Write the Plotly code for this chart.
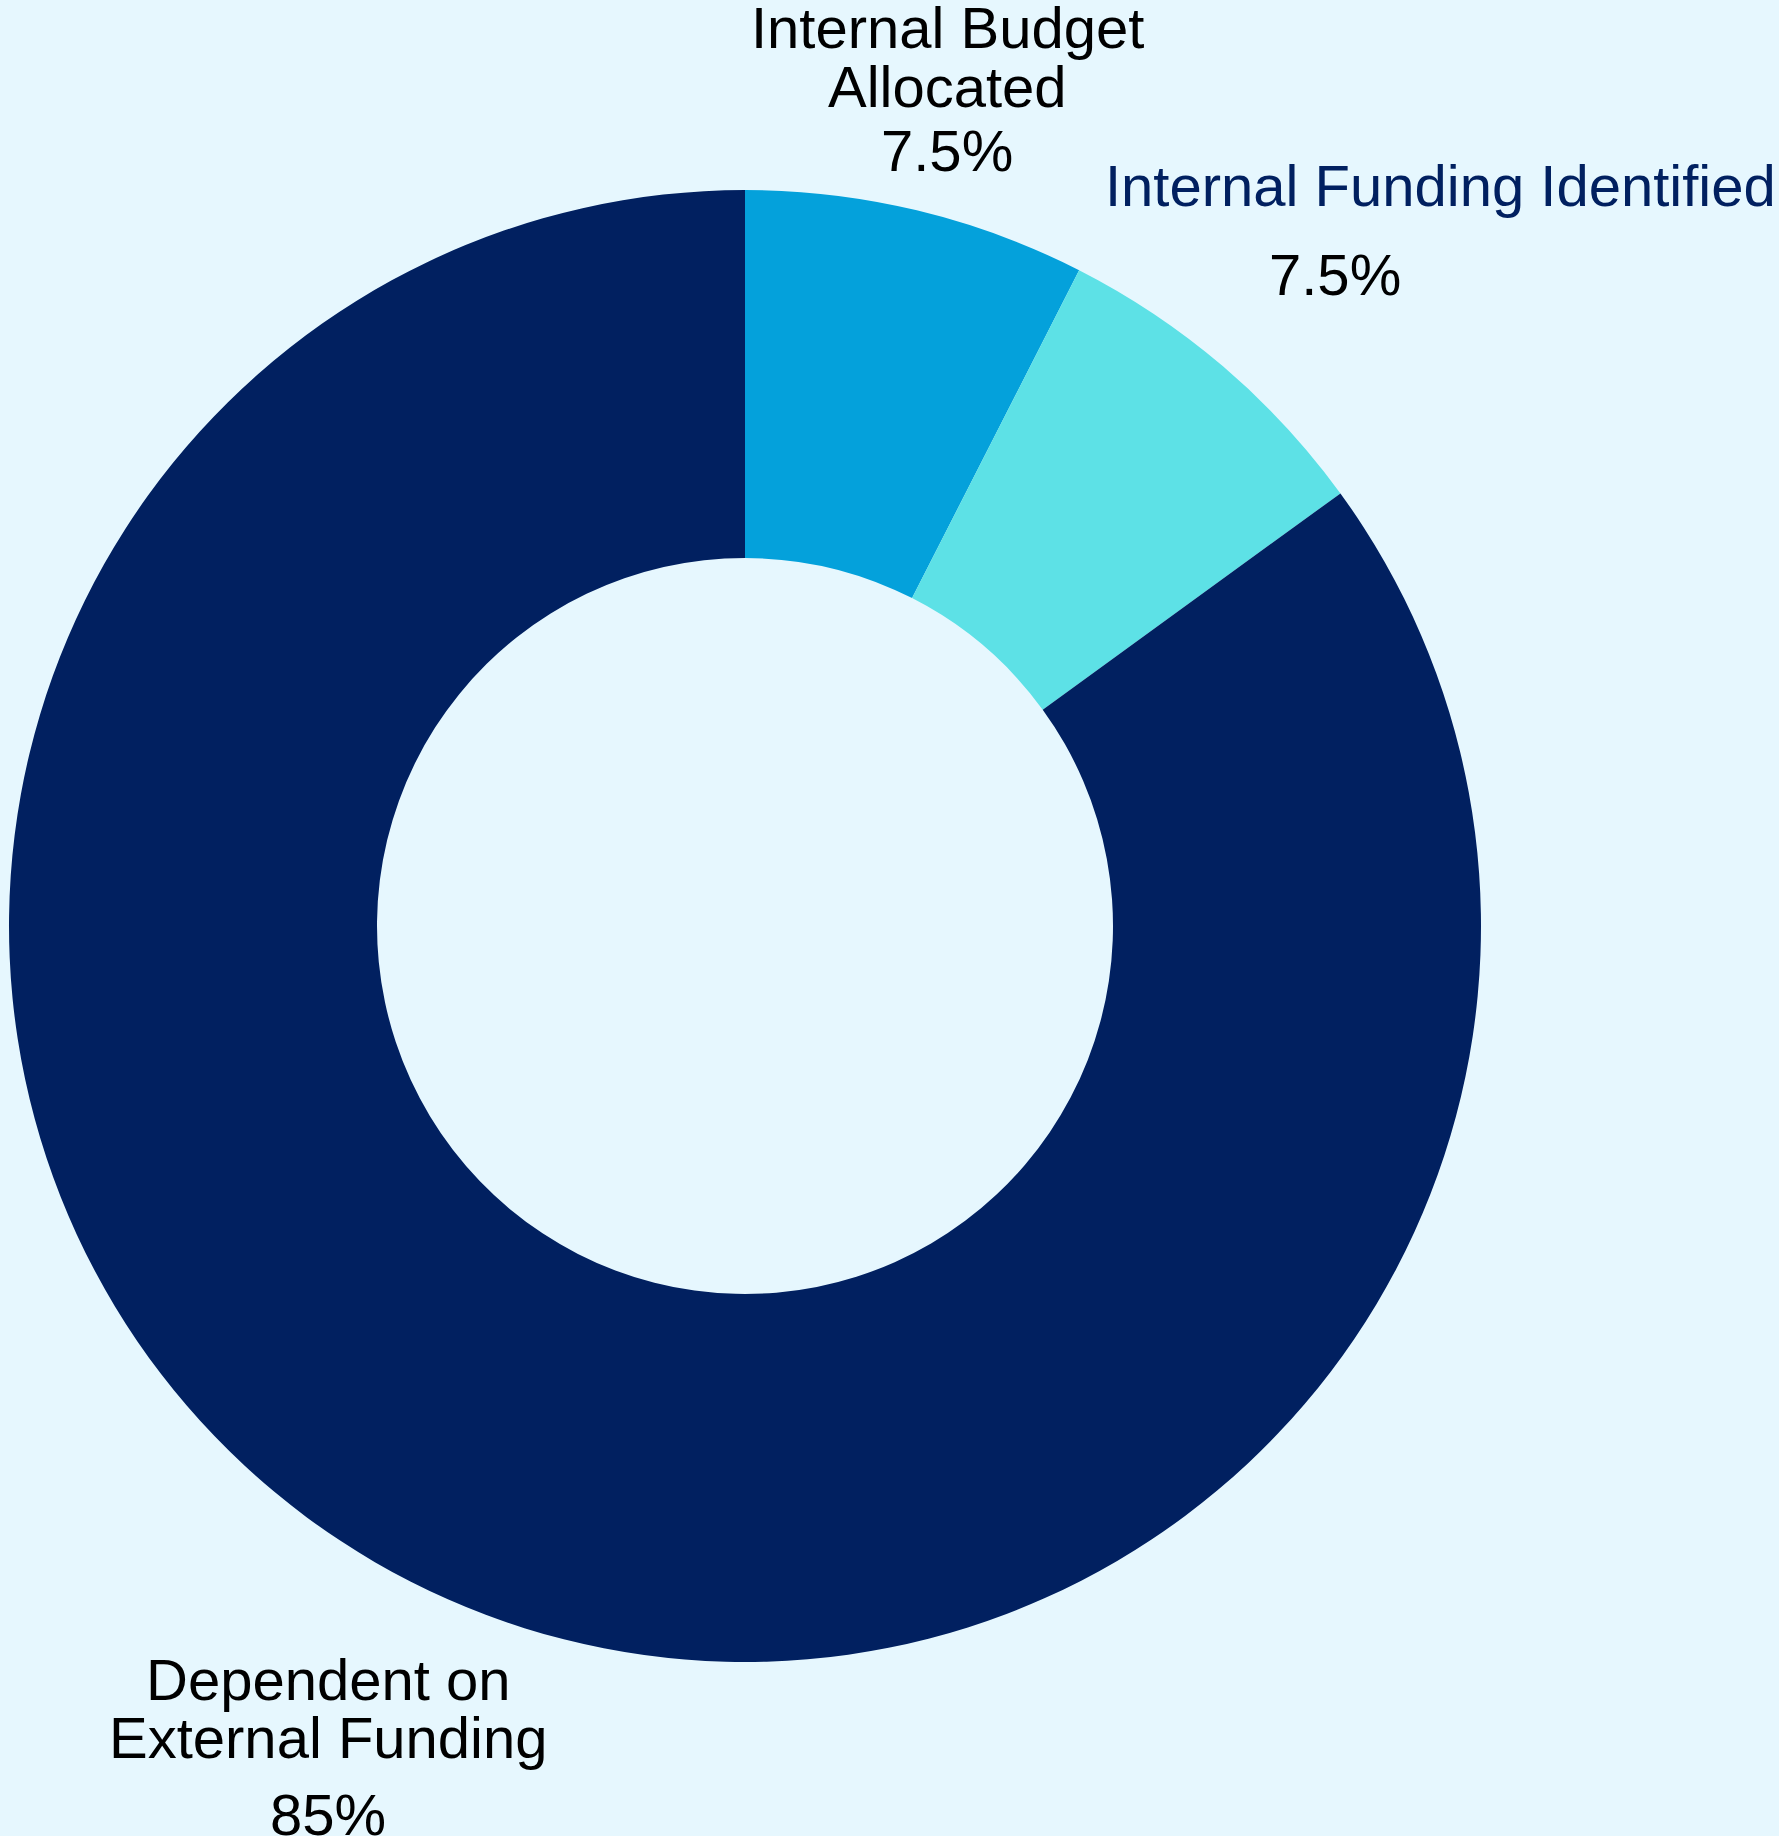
import plotly.graph_objects as go

# Data
categories = ["Internal Budget Allocated", "Internal Funding Identified", "Dependent on External Funding"]
label_lines = [["Internal Budget", "Allocated"], ["Internal Funding Identified"], ["Dependent on", "External Funding"]]
values = [7.5, 7.5, 85]
colors = ["#04A1DB", "#5DE1E6", "#012060"]
label_colors = ["#000000", "#012060", "#000000"]

W, H = 1779, 1836
BG = "#E6F7FE"
FONT = "Liberation Sans, Arial, sans-serif"
FS = 58

# pie geometry in pixels
cx, cy, r = 745, 926, 736

fig = go.Figure(go.Pie(
    labels=categories,
    values=values,
    hole=0.5,
    sort=False,
    direction="clockwise",
    rotation=0,
    marker=dict(colors=colors, line=dict(width=0)),
    textinfo="none",
    hoverinfo="label+percent",
    showlegend=False,
    domain=dict(x=[(cx - r) / W, (cx + r) / W], y=[1 - (cy + r) / H, 1 - (cy - r) / H]),
))

total = sum(values)
pct = [f"{v / total * 100:g}%" for v in values]

# label layout (pixel positions of line centres): name lines then percent
label_pos = [
    dict(x=947, ys=[28, 86], py=151, px=947),
    dict(x=1103, ys=[186], py=274, px=1335, left=True),
    dict(x=328, ys=[1679, 1737], py=1814, px=328),
]

annotations = []
for i, pos in enumerate(label_pos):
    for line, yy in zip(label_lines[i], pos["ys"]):
        annotations.append(dict(
            text=line, x=pos["x"] / W, y=1 - yy / H, xref="paper", yref="paper",
            xanchor="left" if pos.get("left") else "center", yanchor="middle",
            showarrow=False, font=dict(family=FONT, size=FS, color=label_colors[i]),
        ))
    annotations.append(dict(
        text=pct[i], x=pos["px"] / W, y=1 - pos["py"] / H, xref="paper", yref="paper",
        xanchor="center", yanchor="middle", showarrow=False,
        font=dict(family=FONT, size=FS, color="#000000"),
    ))

fig.update_layout(
    width=W, height=H,
    margin=dict(l=0, r=0, t=0, b=0),
    paper_bgcolor=BG, plot_bgcolor=BG,
    annotations=annotations,
    font=dict(family=FONT),
)

fig.write_html("out.html", config={"displayModeBar": False},
               post_script="document.body.style.margin='0';")
